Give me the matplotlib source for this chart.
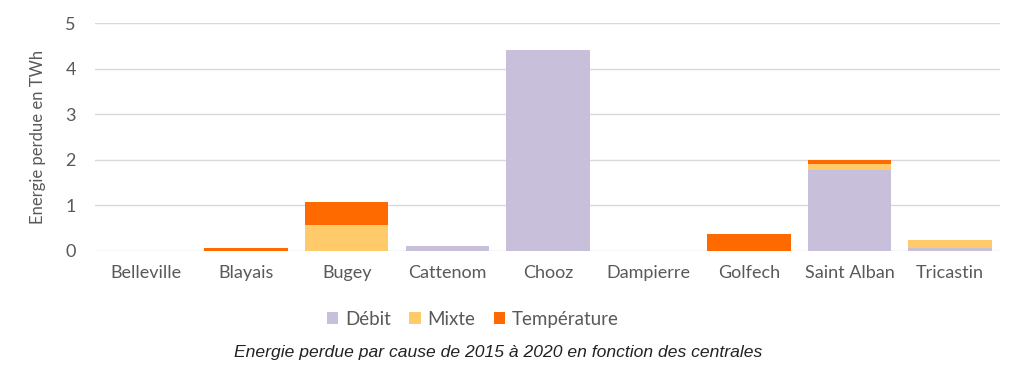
import numpy as np
import matplotlib.pyplot as plt

centrales = ["Belleville", "Blayais", "Bugey", "Cattenom", "Chooz",
             "Dampierre", "Golfech", "Saint Alban", "Tricastin"]
debit = [0, 0, 0, 0.10, 4.40, 0, 0, 1.78, 0.07]
mixte = [0, 0, 0.57, 0, 0, 0, 0, 0.12, 0.16]
temperature = [0, 0.06, 0.50, 0, 0, 0, 0.37, 0.10, 0]

plt.rcParams['font.family'] = ['Lato', 'DejaVu Sans']

fig = plt.figure(figsize=(10.24, 3.86), dpi=100)
ax = fig.add_axes([0.093, 0.350, 0.884, 0.590])

x = np.arange(len(centrales))
debit = np.array(debit)
mixte = np.array(mixte)
temperature = np.array(temperature)
w = 0.83
ax.bar(x, debit, w, color='#C8C0DA', label='Débit', zorder=3)
ax.bar(x, mixte, w, bottom=debit, color='#FFCA6A', label='Mixte', zorder=3)
ax.bar(x, temperature, w, bottom=debit + mixte, color='#FF6A00',
       label='Température', zorder=3)

ax.set_xlim(-0.5, len(centrales) - 0.5)
ax.set_ylim(0, 5)
ax.set_yticks(range(6))
ax.set_xticks(x)
ax.set_xticklabels(centrales, fontsize=13, color='#595959')
ax.tick_params(axis='y', labelsize=13, labelcolor='#595959', length=0, pad=14)
ax.tick_params(axis='x', length=0, pad=10)
ax.grid(axis='y', color='#D9D9D9', linewidth=1, zorder=0)
for s in ax.spines.values():
    s.set_visible(False)
ax.set_ylabel("Energie perdue en TWh", fontsize=12, color='#595959', labelpad=14)

ax.legend(loc='center', bbox_to_anchor=(0.417, -0.30), ncol=3, frameon=False,
          fontsize=13.5, labelcolor='#595959', handlelength=0.6, handleheight=0.6,
          handletextpad=0.35, columnspacing=1.0)

fig.text(0.486, 0.088, "Energie perdue par cause de 2015 à 2020 en fonction des centrales",
         ha='center', va='center', fontsize=12.6, style='italic',
         family=['Liberation Sans', 'DejaVu Sans'], color='#222222')

fig.savefig("out.png", dpi=100)
